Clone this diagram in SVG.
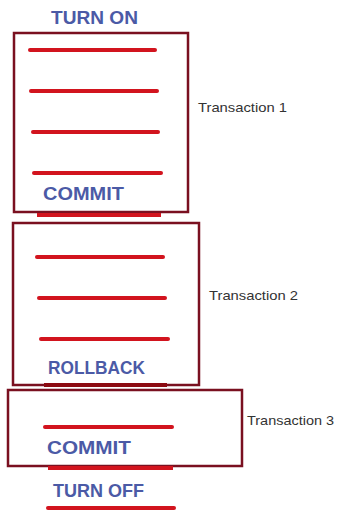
<svg xmlns="http://www.w3.org/2000/svg" width="341" height="512" viewBox="0 0 341 512">
<style>
.box{fill:#ffffff;stroke:#7a1020;stroke-width:2.5}
.ln{stroke:#d2141e;stroke-width:4;stroke-linecap:round}
.dk{stroke:#8c0a12;stroke-width:4;stroke-linecap:butt}
.kw{font-family:"Liberation Sans",Arial,sans-serif;font-weight:bold;font-size:18px;fill:#4b5aa6}
.lb{font-family:"Liberation Sans",Arial,sans-serif;font-size:13px;fill:#333333}
</style>
<rect width="341" height="512" fill="#ffffff"/>
<g id="turn-on"><text class="kw" x="51" y="24" textLength="87" lengthAdjust="spacingAndGlyphs">TURN ON</text></g>
<g id="transaction-1">
<rect class="box" x="14" y="33" width="174" height="179"/>
<line class="ln" x1="30" y1="50" x2="155" y2="50"/>
<line class="ln" x1="31" y1="91" x2="157" y2="91"/>
<line class="ln" x1="33" y1="132" x2="158" y2="132"/>
<line class="ln" x1="34" y1="173" x2="161" y2="173"/>
<text class="kw" x="43" y="200" textLength="81" lengthAdjust="spacingAndGlyphs">COMMIT</text>
<line class="ln" x1="37" y1="215" x2="161" y2="215" style="stroke-linecap:butt"/>
<text class="lb" x="198" y="112" textLength="89" lengthAdjust="spacingAndGlyphs">Transaction 1</text>
</g>
<g id="transaction-2">
<rect class="box" x="13" y="223" width="186" height="162"/>
<line class="ln" x1="37" y1="257" x2="163" y2="257"/>
<line class="ln" x1="39" y1="298" x2="165" y2="298"/>
<line class="ln" x1="41" y1="339" x2="168" y2="339"/>
<text class="kw" x="48" y="374" textLength="97" lengthAdjust="spacingAndGlyphs">ROLLBACK</text>
<line class="dk" x1="44" y1="385" x2="167" y2="385"/>
<text class="lb" x="209" y="300" textLength="89" lengthAdjust="spacingAndGlyphs">Transaction 2</text>
</g>
<g id="transaction-3">
<rect class="box" x="8" y="390" width="234" height="76"/>
<line class="ln" x1="45" y1="427" x2="172" y2="427"/>
<text class="kw" x="47" y="454" textLength="84" lengthAdjust="spacingAndGlyphs">COMMIT</text>
<line class="ln" x1="48" y1="468" x2="173" y2="468" style="stroke-linecap:butt"/>
<text class="lb" x="247" y="425" textLength="87" lengthAdjust="spacingAndGlyphs">Transaction 3</text>
</g>
<g id="turn-off">
<text class="kw" x="53" y="497" textLength="91" lengthAdjust="spacingAndGlyphs">TURN OFF</text>
<line class="ln" x1="48" y1="508" x2="174" y2="508"/>
</g>
<g id="connectors"></g>
</svg>
